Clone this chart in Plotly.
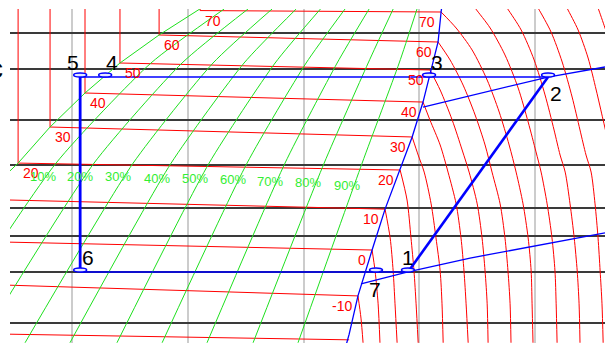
import numpy as np
import plotly.graph_objects as go

# ---------------- grid (pressure in bar, enthalpy in kJ/kg) ----------------
p_grid = [2, 3, 4, 5, 7, 10, 15, 20]
h_grid = [250, 300, 350, 400, 450]

# ---------------- isotherms: liquid + two-phase part ----------------
tp_70_h = [305.3, 305.3, 409.4];  tp_70_p = [30, 23.9, 23.63]
tp_60_h = [287.6, 287.6, 408.1];  tp_60_p = [30, 19.69, 18.62]
tp_50_h = [270.7, 270.7, 404.6];  tp_50_p = [30, 15.76, 14.91]
tp_40_h = [255.6, 255.6, 401.6];  tp_40_p = [30, 12.42, 11.56]
tp_30_h = [240.5, 240.5, 396.9];  tp_30_p = [30, 9.48, 8.76]
tp_20_h = [226.7, 226.7, 391.7];  tp_20_p = [30, 7.12, 6.74]
tp_10_h = [223.2, 385.2];         tp_10_p = [5.31, 4.94]
tp_0_h = [223.2, 379.6];          tp_0_p = [3.80, 3.57]
tp_m10_h = [223.2, 373.5];        tp_m10_p = [2.70, 2.48]
tp_m20_h = [223.2, 369.7];        tp_m20_p = [1.83, 1.75]

# ---------------- isotherms: superheated vapour part ----------------
vap_m10_h = [373.5, 374.8, 375.7]
vap_m10_p = [2.48, 2.08, 1.71]
vap_0_h = [379.6, 380.9, 382.2, 383.0]
vap_0_p = [3.57, 3.02, 2.33, 1.71]
vap_10_h = [385.2, 387.4, 388.7, 389.5, 390.4]
vap_10_p = [4.94, 3.93, 3.02, 2.33, 1.71]
vap_20_h = [391.7, 394.7, 396.4, 397.7, 398.6, 399.5]
vap_20_p = [6.74, 5.31, 3.93, 3.02, 2.33, 1.71]
vap_30_h = [396.9, 399.5, 402.1, 405.1, 407.2, 409.0, 409.8, 410.3]
vap_30_p = [8.76, 7.59, 6.63, 5.15, 3.93, 3.02, 2.33, 1.71]
vap_40_h = [401.6, 404.6, 409.0, 412.4, 415.9, 418.0, 419.3, 420.2, 421.1]
vap_40_p = [11.56, 10.02, 8.22, 6.63, 5.15, 3.93, 3.02, 2.33, 1.71]
vap_50_h = [404.6, 409.0, 414.2, 418.5, 421.5, 425.0, 427.1, 428.4, 429.3, 429.7]
vap_50_p = [14.91, 12.72, 10.02, 7.90, 6.63, 5.15, 3.93, 3.02, 2.33, 1.71]
vap_60_h = [408.1, 413.3, 418.9, 424.1, 428.4, 431.4, 434.9, 437.0, 438.3, 439.2, 439.6]
vap_60_p = [18.62, 16.14, 13.23, 10.43, 8.22, 6.63, 5.15, 3.93, 3.02, 2.33, 1.71]
vap_70_h = [409.4, 415.9, 422.8, 429.3, 434.5, 438.8, 441.8, 444.8, 447.0, 448.3, 448.7, 449.1]
vap_70_p = [23.63, 20.81, 17.48, 13.77, 10.68, 8.22, 6.63, 5.15, 3.93, 3.02, 2.33, 1.71]
vap_80_h = [421.1, 424.1, 430.6, 437.0, 442.7, 447.0, 450.4, 452.6, 455.2, 457.3, 458.6, 459.1, 459.5]
vap_80_p = [26.4, 24.39, 20.81, 16.80, 12.92, 9.87, 7.78, 6.63, 5.15, 3.93, 3.02, 2.33, 1.71]
vap_90_h = [434.9, 437.9, 444.0, 449.6, 454.3, 458.2, 460.8, 463.0, 465.1, 466.9, 468.2, 469.0, 469.4]
vap_90_p = [26.4, 24.39, 20.48, 16.14, 12.23, 9.26, 7.59, 6.63, 5.15, 3.93, 3.02, 2.33, 1.71]
vap_100_h = [448.7, 451.3, 456.9, 461.7, 466.0, 469.4, 472.0, 474.2, 475.9, 477.2, 478.1, 478.9, 479.4]
vap_100_p = [26.4, 24.39, 20.16, 15.89, 12.03, 9.26, 7.59, 6.63, 5.15, 3.93, 3.02, 2.33, 1.71]
vap_110_h = [461.7, 463.8, 468.6, 472.9, 476.4, 479.4, 482.4, 484.6]
vap_110_p = [26.4, 24.39, 20.48, 16.40, 12.72, 10.02, 7.90, 6.63]
vap_120_h = [475.5, 477.2, 480.2, 483.3]
vap_120_p = [26.4, 24.39, 20.81, 17.48]

# labelled isotherm temperatures
left_label_T = [70, 60, 50, 40, 30, 20]
right_label_T = [70, 60, 50, 40, 30, 20, 10, 0, -10]

# ---------------- saturation lines ----------------
satliq_h = [311.3, 305.3, 287.6, 270.7, 255.6, 240.5, 226.7, 214.6]
satliq_p = [26.0, 24.20, 19.69, 15.76, 12.42, 9.48, 7.12, 5.75]
satvap_h = [409.8, 409.4, 408.1, 405.1, 401.6, 396.9, 391.7, 385.2, 379.6, 373.5, 369.7, 368.4]
satvap_p = [24.98, 23.63, 18.62, 14.91, 11.56, 8.76, 6.74, 4.94, 3.57, 2.48, 1.83, 1.68]

# ---------------- vapour quality lines ----------------
quality_pct = [10, 20, 30, 40, 50, 60, 70, 80, 90]
quality_p = [24.20, 15.76, 7.12, 1.71]
q10_h = [315.7, 284.1, 243.1, 190.8]
q20_h = [326.0, 297.5, 259.5, 210.3]
q30_h = [336.4, 310.9, 276.4, 229.7]
q40_h = [346.8, 324.3, 292.8, 249.1]
q50_h = [357.3, 337.7, 309.2, 269.4]
q60_h = [367.9, 351.1, 325.6, 288.9]
q70_h = [378.3, 364.5, 342.0, 308.3]
q80_h = [388.7, 377.9, 358.9, 328.2]
q90_h = [399.0, 391.3, 375.3, 347.6]
qual_label_h = [237.5, 253.5, 269.9, 286.7, 303.1, 319.6, 335.5, 351.9, 368.8]
qual_label_p = [6.38, 6.38, 6.38, 6.32, 6.32, 6.23, 6.13, 6.08, 5.98]

# ---------------- cycle ----------------
p_high = 14.1
p_low = 3.0
point_names = ["1", "2", "3", "4", "5", "6", "7"]
point_h = [395.1, 455.6, 404.2, 264.3, 253.5, 253.5, 381.3]
point_p = [p_low, p_high, p_high, p_high, p_high, p_low, p_low]

# auxiliary blue lines through points 2 and 1
aux_hi_h = [401.6, 455.6, 480.2]
aux_hi_p = [11.11, 14.10, 15.27]
aux_lo_h = [374.8, 395.1, 421.9, 480.2]
aux_lo_p = [2.73, 3.00, 3.35, 4.09]

# ================= figure =================
RED = "#ff0000"
GREEN = "#1ee01e"
BLUE = "#0000ff"
FONT = "Arial, Liberation Sans, sans-serif"

fig = go.Figure()

two_phase = {70: (tp_70_h, tp_70_p), 60: (tp_60_h, tp_60_p), 50: (tp_50_h, tp_50_p),
             40: (tp_40_h, tp_40_p), 30: (tp_30_h, tp_30_p), 20: (tp_20_h, tp_20_p),
             10: (tp_10_h, tp_10_p), 0: (tp_0_h, tp_0_p), -10: (tp_m10_h, tp_m10_p),
             -20: (tp_m20_h, tp_m20_p)}
vapour = [(vap_m10_h, vap_m10_p), (vap_0_h, vap_0_p), (vap_10_h, vap_10_p),
          (vap_20_h, vap_20_p), (vap_30_h, vap_30_p), (vap_40_h, vap_40_p),
          (vap_50_h, vap_50_p), (vap_60_h, vap_60_p), (vap_70_h, vap_70_p),
          (vap_80_h, vap_80_p), (vap_90_h, vap_90_p), (vap_100_h, vap_100_p),
          (vap_110_h, vap_110_p), (vap_120_h, vap_120_p)]

for T, (hh, pp) in two_phase.items():
    fig.add_trace(go.Scatter(x=hh, y=pp, mode="lines", line=dict(color=RED, width=1),
                             hoverinfo="skip"))
for hh, pp in vapour:
    fig.add_trace(go.Scatter(x=hh, y=pp, mode="lines",
                             line=dict(color=RED, width=1, shape="spline", smoothing=0.8),
                             hoverinfo="skip"))

# quality lines
for hh in [q10_h, q20_h, q30_h, q40_h, q50_h, q60_h, q70_h, q80_h, q90_h]:
    fig.add_trace(go.Scatter(x=hh, y=quality_p, mode="lines",
                             line=dict(color=GREEN, width=1, shape="spline", smoothing=0.6),
                             hoverinfo="skip"))
fig.add_trace(go.Scatter(x=satliq_h, y=satliq_p, mode="lines",
                         line=dict(color=GREEN, width=1), hoverinfo="skip"))

# saturated vapour line and auxiliary lines
fig.add_trace(go.Scatter(x=satvap_h, y=satvap_p, mode="lines",
                         line=dict(color=BLUE, width=1.3), hoverinfo="skip"))
fig.add_trace(go.Scatter(x=aux_hi_h, y=aux_hi_p, mode="lines",
                         line=dict(color=BLUE, width=1.3), hoverinfo="skip"))
fig.add_trace(go.Scatter(x=aux_lo_h, y=aux_lo_p, mode="lines",
                         line=dict(color=BLUE, width=1.3), hoverinfo="skip"))

# cycle lines
i1, i2, i5, i6 = 0, 1, 4, 5
fig.add_trace(go.Scatter(x=[point_h[i5], point_h[i2]], y=[p_high, p_high], mode="lines",
                         line=dict(color=BLUE, width=1.6), hoverinfo="skip"))
fig.add_trace(go.Scatter(x=[point_h[i6], point_h[i1]], y=[p_low, p_low], mode="lines",
                         line=dict(color=BLUE, width=1.6), hoverinfo="skip"))
fig.add_trace(go.Scatter(x=[point_h[i1], point_h[i2]], y=[p_low, p_high], mode="lines",
                         line=dict(color=BLUE, width=2.6), hoverinfo="skip"))
fig.add_trace(go.Scatter(x=[point_h[i5], point_h[i6]], y=[p_high, p_low], mode="lines",
                         line=dict(color=BLUE, width=2.8), hoverinfo="skip"))

# point markers (ellipses)
shapes = []
for h, p in zip(point_h, point_p):
    shapes.append(dict(type="circle", xref="x", yref="y", xsizemode="pixel",
                       ysizemode="pixel", xanchor=h, yanchor=p,
                       x0=-6.5, x1=6.5, y0=-4, y1=4,
                       line=dict(color=BLUE, width=1.5), fillcolor="#e4e9ff",
                       layer="above"))

annotations = []
label_shift = {"1": (0, 14), "2": (8, -16), "3": (8, 15), "4": (7, 15),
               "5": (-7, 15), "6": (8, 14), "7": (-1, -18)}
for name, h, p in zip(point_names, point_h, point_p):
    dx, dy = label_shift[name]
    annotations.append(dict(x=h, y=np.log10(p), text=name, showarrow=False,
                            xshift=dx, yshift=dy,
                            font=dict(family=FONT, size=21, color="black")))

for T in left_label_T:
    hh, pp = two_phase[T]
    annotations.append(dict(x=hh[1], y=np.log10(pp[1]), text=str(T), showarrow=False,
                            xanchor="left", yanchor="middle", xshift=3, yshift=-10,
                            font=dict(family=FONT, size=14, color=RED)))
for T in right_label_T:
    hh, pp = two_phase[T]
    annotations.append(dict(x=hh[-1], y=np.log10(pp[-1]), text=str(T), showarrow=False,
                            xanchor="right", yanchor="middle", xshift=-4, yshift=-10,
                            font=dict(family=FONT, size=14, color=RED)))

for q, h, p in zip(quality_pct, qual_label_h, qual_label_p):
    annotations.append(dict(x=h, y=np.log10(p), text=f"{q}%", showarrow=False,
                            font=dict(family=FONT, size=13, color="#33ee33")))

# cut-off character at the left edge
annotations.append(dict(xref="paper", yref="paper", x=-0.0085, y=0.823, text="c",
                        showarrow=False, xanchor="right", yanchor="middle",
                        font=dict(family=FONT, size=28, color="black")))

fig.update_layout(
    width=605, height=343,
    margin=dict(l=10, r=0, t=9, b=0),
    paper_bgcolor="white", plot_bgcolor="white",
    showlegend=False,
    shapes=shapes, annotations=annotations,
    xaxis=dict(range=[223.2, 480.2], tickvals=h_grid, showticklabels=False, ticks="",
               showgrid=True, gridcolor="#cccccc", gridwidth=2, zeroline=False,
               showline=False),
    yaxis=dict(type="log", range=[0.2321, 1.3838], tickvals=p_grid, showticklabels=False,
               ticks="", showgrid=True, gridcolor="#3a3a3a", gridwidth=2, zeroline=False,
               showline=False),
)

fig.write_html("out.html")
